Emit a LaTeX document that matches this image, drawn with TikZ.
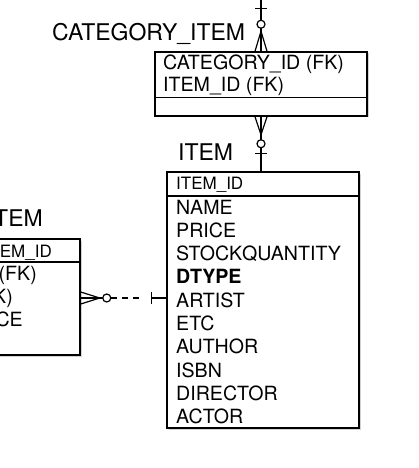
\documentclass[tikz,border=0pt]{standalone}
\usepackage{fontspec}
\setmainfont{TeX Gyre Heros}
\usetikzlibrary{calc,shadows}
\begin{document}
\begin{tikzpicture}[x=1pt,y=-1pt,
  box/.style={draw=black,line width=1.5pt,fill=white,inner sep=0pt,rectangle,
    drop shadow={opacity=0.35,shadow xshift=1.5pt,shadow yshift=-1.5pt}},
  divider/.style={line width=1.3pt},
  rowtext/.style={anchor=base west,inner sep=0pt,font=\fontsize{19.6}{20}\selectfont},
  headtext/.style={anchor=base west,inner sep=0pt,font=\fontsize{17}{18}\selectfont},
  lbl/.style={anchor=base west,inner sep=0pt,font=\fontsize{23}{24}\selectfont},
  conn/.style={line width=1.2pt},
  ]
\useasboundingbox (0,0) rectangle (418,468);
\clip (0,0) rectangle (418,468);
\fill[white] (0,0) rectangle (418,468);

% boxes
\node[box, minimum width=212pt, minimum height=64pt] (cat) at (261,84) {};
\node[box, minimum width=192pt, minimum height=256pt] (item) at (263,300) {};
\node[box, minimum width=90pt, minimum height=116pt] (oi) at (35,297) {};

% dividers
\draw[divider] (cat.west |- 0,97.7) -- (cat.east |- 0,97.7);
\draw[divider] (item.west |- 0,196) -- (item.east |- 0,196);
\draw[divider] (oi.west |- 0,262) -- (oi.east |- 0,262);

% labels
\node[lbl] (catlbl) at (52,41) {CATEGORY\_ITEM};
\node[lbl] (itemlbl) at (178,160) {ITEM};
\node[lbl,anchor=base east] (oilbl) at (43,226) {TEM};

% CATEGORY_ITEM attributes
\node[rowtext] (c1) at (163,70) {CATEGORY\_ID (FK)};
\node[rowtext] (c2) at (163,92) {ITEM\_ID (FK)};

% ITEM attributes
\node[headtext] (ih) at (176,189) {ITEM\_ID};
\node[rowtext] (i1) at (176,214) {NAME};
\node[rowtext] (i2) at (176,237.3) {PRICE};
\node[rowtext] (i3) at (176,260.6) {STOCKQUANTITY};
\node[rowtext] (i4) at (176,283.9) {\bfseries DTYPE};
\node[rowtext] (i5) at (176,307.2) {ARTIST};
\node[rowtext] (i6) at (176,330.5) {ETC};
\node[rowtext] (i7) at (176,353.8) {AUTHOR};
\node[rowtext] (i8) at (176,377.1) {ISBN};
\node[rowtext] (i9) at (176,400.4) {DIRECTOR};
\node[rowtext] (i10) at (176,423.4) {ACTOR};

% left (cut-off) entity attributes
\node[headtext,anchor=base east] (oh) at (52,257) {EM\_ID};
\node[rowtext,anchor=base east] (o1) at (37,280) {(FK)};
\node[rowtext,anchor=base east] (o2) at (13,303.4) {K)};
\node[rowtext,anchor=base east] (o3) at (23,326.8) {CE};

% connector: top -> CATEGORY_ITEM
\coordinate (top) at (261,0);
\draw[conn] (top) -- (cat.north);
\draw[conn] ($(cat.north)+(-6,-43)$) -- ($(cat.north)+(6,-43)$);
\draw[conn] ($(cat.north)+(-6,0)$) -- ($(cat.north)+(0,-20)$) -- ($(cat.north)+(6,0)$);
\draw[conn,fill=white] ($(cat.north)+(0,-27)$) circle[radius=4pt];

% connector: CATEGORY_ITEM -> ITEM
\draw[conn] (cat.south) -- (cat.south |- item.north);
\draw[conn] ($(cat.south)+(-6,0)$) -- ($(cat.south)+(0,18)$) -- ($(cat.south)+(6,0)$);
\draw[conn,fill=white] ($(cat.south)+(0,27)$) circle[radius=4pt];
\draw[conn] ($(cat.south)+(-6,37)$) -- ($(cat.south)+(6,37)$);

% connector: left entity -> ITEM (dashed)
\coordinate (oiE) at (oi.east |- 0,298);
\draw[conn] (oiE) -- ($(oiE)+(22,0)$);
\draw[conn] ($(oiE)+(0,-6)$) -- ($(oiE)+(19,0)$) -- ($(oiE)+(0,6)$);
\draw[conn,fill=white] ($(oiE)+(26,0)$) circle[radius=4pt];
\draw[conn,dash pattern=on 6pt off 5pt] ($(oiE)+(30,0)$) -- ($(oiE)+(61,0)$);
\draw[conn] ($(oiE)+(71,-6)$) -- ($(oiE)+(71,6)$);
\draw[conn] ($(oiE)+(71,0)$) -- (item.west |- oiE);
\end{tikzpicture}
\end{document}
